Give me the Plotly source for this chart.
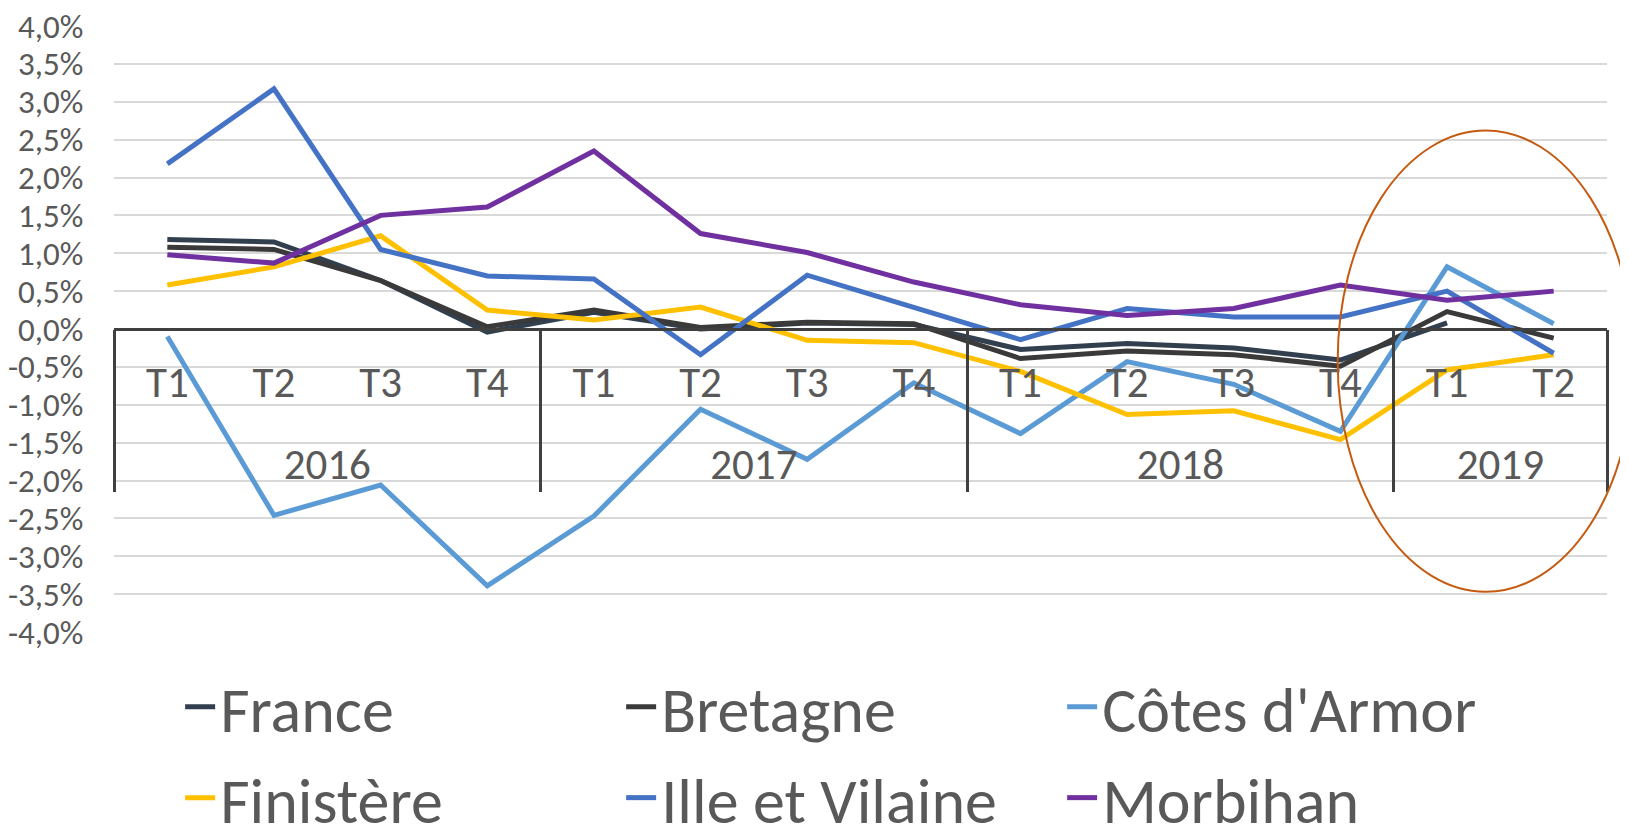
import plotly.graph_objects as go

years = ["2016"] * 4 + ["2017"] * 4 + ["2018"] * 4 + ["2019"] * 2
quarters = ["T1", "T2", "T3", "T4"] * 3 + ["T1", "T2"]

france = [1.18, 1.15, 0.64, -0.04, 0.22, 0.00, 0.08, 0.06, -0.27, -0.19, -0.25, -0.41, 0.08, None]
bretagne = [1.08, 1.05, 0.64, 0.03, 0.25, 0.02, 0.09, 0.07, -0.39, -0.29, -0.34, -0.49, 0.23, -0.12]
cotes_armor = [-0.10, -2.46, -2.06, -3.39, -2.47, -1.06, -1.72, -0.71, -1.38, -0.43, -0.73, -1.35, 0.82, 0.07]
finistere = [0.58, 0.82, 1.23, 0.25, 0.12, 0.29, -0.15, -0.18, -0.56, -1.13, -1.08, -1.46, -0.54, -0.34]
ille_vilaine = [2.18, 3.17, 1.05, 0.70, 0.66, -0.34, 0.71, 0.29, -0.14, 0.27, 0.16, 0.16, 0.50, -0.32]
morbihan = [0.98, 0.87, 1.50, 1.61, 2.35, 1.26, 1.01, 0.62, 0.32, 0.18, 0.27, 0.58, 0.38, 0.50]

series_names = ["France", "Bretagne", "Côtes d'Armor", "Finistère", "Ille et Vilaine", "Morbihan"]
series_values = [france, bretagne, cotes_armor, finistere, ille_vilaine, morbihan]
series_colors = ["#323F4F", "#3A3A3A", "#5B9BD5", "#FFC000", "#4472C4", "#7030A0"]
series_legend = ["legend", "legend", "legend", "legend2", "legend2", "legend2"]

tick_vals = [-4.0, -3.5, -3.0, -2.5, -2.0, -1.5, -1.0, -0.5, 0.0, 0.5, 1.0, 1.5, 2.0, 2.5, 3.0, 3.5, 4.0]
tick_labels = ["-4,0%", "-3,5%", "-3,0%", "-2,5%", "-2,0%", "-1,5%", "-1,0%", "-0,5%", "0,0%",
               "0,5%", "1,0%", "1,5%", "2,0%", "2,5%", "3,0%", "3,5%", "4,0%"]

FONT = "Carlito, Calibri, Lato, sans-serif"
TXT = "#595959"
AXC = "#404040"

# positions derived from the category lists
idx = list(range(len(quarters)))
year_names = []
for y in years:
    if y not in year_names:
        year_names.append(y)
year_centers = [sum(i for i, y in enumerate(years) if y == yn) / years.count(yn) for yn in year_names]
boundaries = [-0.5] + [i + 0.5 for i in range(len(years) - 1) if years[i] != years[i + 1]] + [len(years) - 0.5]
xr = [-0.5, len(years) - 0.5]

fig = go.Figure()
for name, vals, col, lg in zip(series_names, series_values, series_colors, series_legend):
    fig.add_trace(go.Scatter(
        x=idx, y=vals, name=name, mode="lines", legend=lg,
        line=dict(color=col, width=5), connectgaps=False, hoverinfo="name+y",
    ))
# helper traces so the year-label axis and the divider axis exist
for ax in ["x2", "x3"]:
    fig.add_trace(go.Scatter(x=[None], y=[None], xaxis=ax, yaxis="y",
                             showlegend=False, hoverinfo="skip"))

fig.add_shape(type="circle", xref="paper", yref="y",
              x0=0.8196, x1=1.018, y0=-3.47, y1=2.62,
              line=dict(color="#C55A11", width=2))

legend_common = dict(orientation="h", xanchor="left", yanchor="middle",
                     entrywidth=396, entrywidthmode="pixels", itemwidth=30,
                     font=dict(size=64, color=TXT, family=FONT),
                     bgcolor="rgba(0,0,0,0)")

fig.update_layout(
    width=1620, height=820,
    margin=dict(l=106, r=21, t=18, b=196, autoexpand=False),
    paper_bgcolor="white", plot_bgcolor="white",
    font=dict(family=FONT, color=TXT),
    showlegend=True,
    legend=dict(x=0.0443, y=-0.124, **legend_common),
    legend2=dict(x=0.0443, y=-0.274, **legend_common),
    xaxis=dict(range=xr, anchor="free", position=0.5, automargin=False,
               tickmode="array", tickvals=idx, ticktext=quarters,
               showgrid=False, zeroline=False,
               showline=True, linecolor=AXC, linewidth=2.5,
               ticks="outside", ticklen=15, tickcolor="rgba(0,0,0,0)",
               tickfont=dict(size=43, color=TXT, family=FONT)),
    xaxis2=dict(range=xr, overlaying="x", anchor="free", position=0.5, automargin=False,
                tickmode="array", tickvals=year_centers, ticktext=year_names,
                showgrid=False, zeroline=False, showline=False,
                ticks="outside", ticklen=97, tickcolor="rgba(0,0,0,0)",
                tickfont=dict(size=43, color=TXT, family=FONT)),
    xaxis3=dict(range=xr, overlaying="x", anchor="free", position=0.5, automargin=False,
                tickmode="array", tickvals=boundaries, showticklabels=False,
                showgrid=False, zeroline=False, showline=False,
                ticks="outside", ticklen=162, tickcolor=AXC, tickwidth=2.5),
    yaxis=dict(range=[-4.0, 4.0], tickmode="array", tickvals=tick_vals, ticktext=tick_labels,
               automargin=False, ticklabeloverflow="allow",
               showgrid=True, gridcolor="#D9D9D9", gridwidth=1.5,
               zeroline=False, showline=False,
               ticks="outside", ticklen=23, tickcolor="rgba(0,0,0,0)",
               tickfont=dict(size=33, color=TXT, family=FONT)),
)

fig.write_html("out.html")
